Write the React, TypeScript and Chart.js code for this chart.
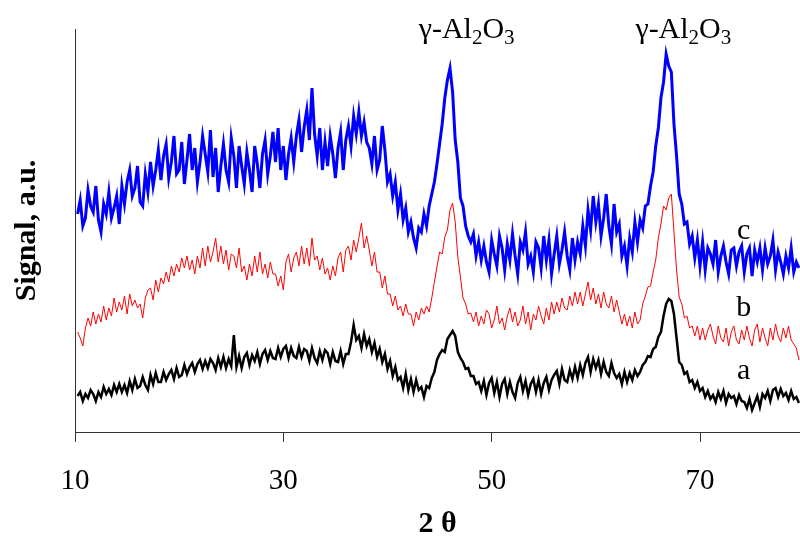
import React, { useEffect, useRef } from "react";
import { Chart, registerables } from "chart.js";

Chart.register(...registerables);

// 2θ sampling grid (0.25° steps from 10.25° to 79.5°)
const twoTheta: number[] = Array.from({ length: 278 }, (_, i) => 10.25 + i * 0.25);

// Signal (a.u.), 4 values per degree
const seriesA: number[] = [
  36, 40, 31, 38, 34, 42, 38, 31, 40, 35, 45, 38, 43, 37, 47, 40, 48, 40, 47, 39,
  51, 42, 53, 44, 46, 55, 47, 42, 57, 48, 59, 50, 50, 60, 52, 58, 62, 53, 64, 55,
  57, 67, 58, 65, 69, 60, 68, 72, 63, 71, 64, 73, 69, 62, 74, 65, 75, 64, 73, 66,
  97, 65, 76, 64, 75, 79, 67, 77, 71, 80, 68, 78, 82, 72, 81, 74, 73, 84, 75, 83,
  86, 74, 84, 76, 74, 85, 75, 83, 81, 71, 84, 74, 69, 81, 72, 82, 79, 68, 80, 71,
  70, 81, 68, 78, 78, 90, 107, 92, 96, 84, 98, 86, 93, 80, 89, 75, 83, 70, 78, 63,
  71, 56, 65, 52, 55, 44, 58, 42, 53, 40, 52, 42, 45, 35, 46, 44, 54, 60, 72, 78,
  82, 80, 93, 97, 101, 96, 80, 74, 70, 63, 64, 56, 56, 48, 50, 41, 51, 37, 49, 54,
  39, 50, 35, 48, 53, 38, 50, 40, 34, 49, 55, 41, 51, 37, 48, 53, 40, 52, 38, 49,
  55, 42, 52, 57, 61, 48, 63, 52, 50, 62, 53, 65, 54, 67, 57, 69, 75, 60, 73, 64,
  72, 58, 70, 60, 56, 69, 59, 54, 58, 48, 60, 50, 59, 52, 62, 56, 60, 67, 70, 76,
  75, 83, 85, 95, 100, 116, 128, 133, 131, 118, 94, 70, 67, 58, 60, 50, 52, 44, 50, 41,
  44, 35, 41, 33, 37, 30, 40, 33, 41, 29, 38, 34, 36, 28, 37, 31, 30, 24, 33, 22,
  29, 36, 25, 38, 34, 41, 31, 42, 44, 35, 43, 36, 39, 32, 41, 33, 35, 29,
];

const seriesB: number[] = [
  100, 94, 86, 104, 114, 106, 120, 108, 118, 110, 126, 112, 124, 116, 134, 120, 130, 122, 136, 118,
  138, 126, 132, 124, 128, 114, 134, 142, 144, 132, 152, 140, 154, 148, 160, 150, 166, 156, 168, 160,
  174, 164, 176, 162, 172, 158, 176, 164, 184, 166, 186, 170, 180, 194, 170, 186, 168, 182, 162, 178,
  176, 164, 184, 160, 166, 152, 168, 156, 176, 160, 180, 158, 168, 154, 170, 158, 158, 146, 156, 142,
  170, 178, 160, 174, 180, 166, 186, 168, 184, 166, 194, 172, 176, 162, 174, 158, 164, 152, 166, 156,
  174, 180, 160, 182, 186, 172, 192, 180, 194, 209, 184, 196, 182, 166, 180, 160, 160, 144, 156, 138,
  138, 126, 136, 122, 126, 116, 128, 118, 118, 106, 120, 112, 124, 118, 126, 120, 134, 150, 165, 180,
  178, 195, 202, 222, 229, 210, 175, 155, 134, 128, 118, 119, 110, 120, 106, 116, 108, 122, 118, 104,
  112, 126, 108, 114, 102, 116, 124, 110, 120, 106, 112, 126, 108, 120, 102, 118, 112, 126, 116, 108,
  124, 112, 130, 118, 130, 120, 134, 124, 122, 136, 126, 140, 128, 140, 126, 138, 150, 132, 144, 128,
  138, 124, 140, 128, 124, 136, 120, 132, 120, 108, 118, 106, 116, 104, 120, 108, 112, 128, 136, 145,
  146, 160, 172, 194, 208, 226, 222, 234, 238, 200, 162, 135, 128, 114, 116, 104, 106, 96, 106, 92,
  104, 92, 102, 108, 96, 88, 106, 94, 90, 104, 86, 100, 106, 92, 88, 102, 92, 106, 94, 86,
  102, 108, 90, 104, 94, 86, 104, 92, 108, 96, 90, 104, 94, 106, 92, 88, 84, 72,
];

const seriesC: number[] = [
  218, 232, 206, 214, 242, 226, 220, 246, 212, 200, 228, 218, 240, 214, 224, 236, 208, 246, 228, 250,
  262, 236, 244, 266, 230, 226, 258, 240, 270, 246, 262, 282, 252, 276, 288, 254, 270, 296, 258, 262,
  290, 248, 272, 298, 262, 284, 250, 270, 296, 278, 260, 302, 255, 284, 240, 266, 288, 262, 250, 294,
  276, 244, 286, 266, 248, 280, 262, 240, 286, 268, 244, 278, 292, 258, 276, 300, 270, 304, 262, 286,
  252, 278, 294, 270, 296, 312, 280, 305, 322, 292, 344, 298, 276, 304, 262, 290, 266, 296, 278, 254,
  284, 300, 262, 292, 306, 286, 316, 298, 320, 296, 310, 290, 284, 268, 296, 262, 272, 306, 282, 250,
  258, 236, 250, 222, 238, 212, 224, 200, 210, 194, 184, 204, 200, 218, 206, 226, 238, 250, 268, 288,
  308, 334, 352, 364, 340, 292, 270, 234, 226, 206, 196, 190, 198, 176, 190, 172, 186, 170, 160, 192,
  178, 166, 196, 184, 162, 188, 172, 198, 176, 158, 190, 182, 200, 168, 176, 160, 190, 184, 164, 196,
  172, 192, 158, 178, 196, 168, 182, 200, 176, 162, 194, 172, 190, 178, 206, 186, 222, 202, 236, 210,
  228, 196, 214, 238, 206, 188, 228, 200, 208, 176, 186, 166, 194, 180, 210, 190, 212, 204, 226, 228,
  246, 260, 286, 304, 334, 350, 378, 366, 360, 308, 276, 238, 228, 208, 210, 188, 196, 174, 192, 166,
  190, 162, 184, 178, 168, 192, 160, 176, 186, 170, 158, 182, 184, 166, 180, 186, 160, 178, 184, 156,
  182, 170, 184, 162, 184, 168, 176, 192, 162, 180, 170, 158, 176, 164, 184, 160, 170, 164,
];

const xTicks: number[] = [10, 30, 50, 70];

const peakLabels = [
  { x: 47.6, y: 394 },
  { x: 68.4, y: 394 },
];

const curveLabels = [
  { x: 74.2, y: 201, text: "c" },
  { x: 74.2, y: 124, text: "b" },
  { x: 74.2, y: 61, text: "a" },
];

const SERIF = "'Liberation Serif', 'Times New Roman', serif";

const textPlugin = {
  id: "textPlugin",
  afterDraw(chart: any) {
    const { ctx, scales } = chart;
    const xs = scales.x;
    const ys = scales.y;
    ctx.save();
    ctx.fillStyle = "#000";

    for (const p of peakLabels) {
      const big = `30px ${SERIF}`;
      const small = `21px ${SERIF}`;
      const parts = [
        { t: "γ-Al", f: big, dy: 0 },
        { t: "2", f: small, dy: 6 },
        { t: "O", f: big, dy: 0 },
        { t: "3", f: small, dy: 6 },
      ];
      let total = 0;
      for (const s of parts) {
        ctx.font = s.f;
        total += ctx.measureText(s.t).width;
      }
      let cx = xs.getPixelForValue(p.x) - total / 2;
      const by = ys.getPixelForValue(p.y);
      ctx.textBaseline = "alphabetic";
      ctx.textAlign = "left";
      for (const s of parts) {
        ctx.font = s.f;
        ctx.fillText(s.t, cx, by + s.dy);
        cx += ctx.measureText(s.t).width;
      }
    }

    ctx.font = `30px ${SERIF}`;
    ctx.textAlign = "center";
    ctx.textBaseline = "middle";
    for (const c of curveLabels) {
      ctx.fillText(c.text, xs.getPixelForValue(c.x), ys.getPixelForValue(c.y));
    }

    ctx.font = `bold 30px ${SERIF}`;
    ctx.fillText("2 θ", (chart.chartArea.left + chart.chartArea.right) / 2, 524);
    ctx.translate(27, (chart.chartArea.top + chart.chartArea.bottom) / 2);
    ctx.rotate(-Math.PI / 2);
    ctx.fillText("Signal, a.u.", 0, 0);
    ctx.restore();
  },
};

export default function App() {
  const ref = useRef<HTMLCanvasElement | null>(null);

  useEffect(() => {
    if (!ref.current) return;
    const mk = (arr: number[]) => twoTheta.map((x, i) => ({ x, y: arr[i] }));
    const chart = new Chart(ref.current, {
      type: "line",
      data: {
        datasets: [
          { label: "c", data: mk(seriesC), borderColor: "#0000ff", borderWidth: 3, pointRadius: 0, tension: 0, fill: false },
          { label: "b", data: mk(seriesB), borderColor: "#ff0000", borderWidth: 1, pointRadius: 0, tension: 0, fill: false },
          { label: "a", data: mk(seriesA), borderColor: "#000000", borderWidth: 2.5, pointRadius: 0, tension: 0, fill: false },
        ],
      },
      options: {
        animation: false,
        responsive: false,
        layout: { padding: { top: 29, left: 0, right: 0, bottom: 0 } },
        plugins: { legend: { display: false }, tooltip: { enabled: false } },
        scales: {
          x: {
            type: "linear",
            min: 10,
            max: 79.6,
            afterBuildTicks: (s: any) => {
              s.ticks = xTicks.map((v) => ({ value: v }));
            },
            afterFit: (s: any) => {
              s.height = 108;
            },
            grid: { display: true, drawOnChartArea: false, drawTicks: true, tickLength: 10, color: "#333" },
            border: { display: true, color: "#333", width: 1 },
            ticks: { color: "#000", font: { family: SERIF, size: 29 }, padding: 22, maxRotation: 0 },
          },
          y: {
            min: 0,
            max: 403,
            afterFit: (s: any) => {
              s.width = 75;
            },
            grid: { display: false },
            border: { display: true, color: "#333", width: 1 },
            ticks: { display: false },
          },
        },
      },
      plugins: [textPlugin],
    } as any);
    return () => chart.destroy();
  }, []);

  return (
    <div style={{ position: "absolute", left: 0, top: 0, width: 800, height: 540, background: "#fff" }}>
      <canvas ref={ref} width={800} height={540} style={{ display: "block" }} />
    </div>
  );
}
